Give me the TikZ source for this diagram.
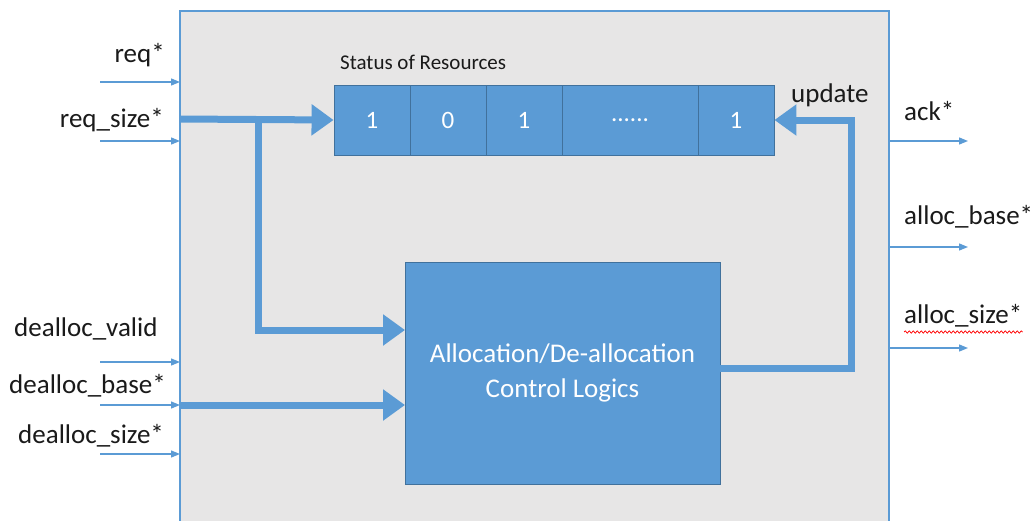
\documentclass[tikz,border=0pt]{standalone}
\usepackage{fontspec}
\setmainfont{Carlito}
\usetikzlibrary{arrows.meta,decorations.pathmorphing,calc}
\definecolor{cellblue}{HTML}{5B9BD5}
\definecolor{celledge}{HTML}{41719C}
\definecolor{panel}{HTML}{E7E6E6}
\definecolor{ink}{HTML}{1A1A1A}
\tikzset{
  cell/.style={draw=celledge, line width=0.9pt, fill=cellblue, text=white,
    minimum height=70pt, inner sep=0pt, font=\fontsize{25}{30}\selectfont},
  logicbox/.style={draw=celledge, line width=0.9pt, fill=cellblue, text=white,
    minimum width=315pt, minimum height=222pt, inner sep=0pt, align=center,
    font=\fontsize{27}{35}\selectfont},
  sig/.style={text=ink, inner sep=0pt, font=\fontsize{27}{32}\selectfont},
  bus/.style={draw=cellblue, line width=7pt, line join=miter,
    -{Triangle[length=22pt,width=30pt]}},
  wire/.style={draw=cellblue, line width=1.3pt,
    -{Triangle[length=9pt,width=7pt]}},
}
\begin{document}
\begin{tikzpicture}[x=1pt,y=-1pt]
\useasboundingbox (0,0) rectangle (1036,520);
\clip (0,0) rectangle (1036,520);
\fill[white] (0,0) rectangle (1036,520);

% module outline
\draw[fill=panel, draw=cellblue, line width=1.3pt] (180,11) rectangle (889,560);

% resource status register
\node[sig, anchor=base west, font=\fontsize{21}{25}\selectfont] (stlbl) at (340,69) {Status of Resources};
\node[cell, minimum width=76pt]  (c1) at (372,120) {1};
\node[cell, minimum width=76pt]  (c2) at (448,120) {0};
\node[cell, minimum width=76pt]  (c3) at (524,120) {1};
\node[cell, minimum width=136pt] (c4) at (630,120) {\raisebox{-2pt}{......}};
\node[cell, minimum width=76pt]  (c5) at (736,120) {1};

% control logic block
\node[logicbox] (logic) at (562.5,373) {Allocation/De-allocation\\Control Logics};

% left port labels
\node[sig, anchor=base east] (lreq)  at (165,62)  {req*};
\node[sig, anchor=base east] (lrsz)  at (164,127) {req\_size*};
\node[sig, anchor=base west] (ldv)   at (14,336)  {dealloc\_valid};
\node[sig, anchor=base west] (ldb)   at (9,393)   {dealloc\_base*};
\node[sig, anchor=base west] (lds)   at (18,443)  {dealloc\_size*};

% right port labels
\node[sig, anchor=base west] (oack)  at (904,120) {ack*};
\node[sig, anchor=base west] (obase) at (904,224) {alloc\_base*};
\node[sig, anchor=base west] (osize) at (904,323) {alloc\_size*};
\node[sig, anchor=base west] (upd)   at (791,102) {update};
\draw[red, line width=0.7pt, decorate,
      decoration={snake, amplitude=1.2pt, segment length=4pt}]
  ($(osize.base west)+(0,9)$) -- ($(osize.base east)+(0,9)$);

% thin input wires
\coordinate (i1s) at (100,82);  \coordinate (i1e) at (180,82);
\coordinate (i2s) at (100,141); \coordinate (i2e) at (180,141);
\coordinate (i3s) at (100,362); \coordinate (i3e) at (180,362);
\coordinate (i4s) at (100,405); \coordinate (i4e) at (180,405);
\coordinate (i5s) at (100,454); \coordinate (i5e) at (180,454);
\foreach \k in {1,...,5} \draw[wire] (i\k s) -- (i\k e);

% thin output wires
\coordinate (o1s) at (889,141); \coordinate (o1e) at (968,141);
\coordinate (o2s) at (889,247); \coordinate (o2e) at (968,247);
\coordinate (o3s) at (889,348); \coordinate (o3e) at (968,348);
\foreach \k in {1,2,3} \draw[wire] (o\k s) -- (o\k e);

% internal buses
\coordinate (rin)  at (180,119);
\coordinate (tap)  at (258,119);
\coordinate (lin1) at (405,330);
\coordinate (din)  at (180,405);
\coordinate (lin2) at (405,405);
\coordinate (lout) at (720,368);
\coordinate (fbk)  at (851,368);
\coordinate (fbt)  at (851,120);

\draw[bus] (rin) -- (c1.west);
\draw[bus] (tap) |- (lin1);
\draw[bus] (din) -- (lin2);
\draw[bus] (lout) -- (fbk) -- (fbt) -- (c5.east);
\end{tikzpicture}
\end{document}
